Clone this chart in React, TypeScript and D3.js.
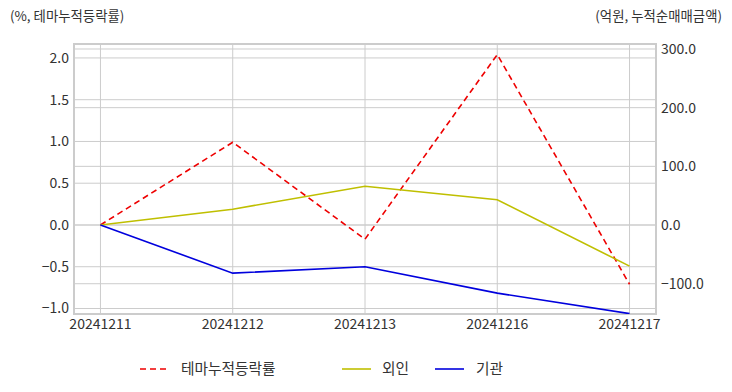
import React from "react";
import * as d3 from "d3";

const categories = ["20241211", "20241212", "20241213", "20241216", "20241217"];
const themeReturn = [0.0, 0.99, -0.17, 2.04, -0.71];
const foreignNet = [0, 27, 66, 43, -70];
const instNet = [0, -82, -71, -116, -151];
const leftTicks = [-1.0, -0.5, 0.0, 0.5, 1.0, 1.5, 2.0];
const rightTicks = [-100, 0, 100, 200, 300];

const W = 732, H = 392;
const L = 74, R = 656, T = 44, B = 314;
const FONT = "'Noto Sans CJK KR', 'Noto Sans', sans-serif";

export default function App() {
  const x = d3.scaleLinear().domain([-0.2, 4.2]).range([L, R]);
  const yL = d3.scaleLinear().domain([-1.066, 2.167]).range([B, T]);
  const yR = d3.scaleLinear().domain([-151.6, 308.5]).range([B, T]);
  const idx = categories.map((_, i) => i);
  const lineL = d3.line<number>().x((i) => x(i)).y((i) => yL(themeReturn[i]));
  const lineF = d3.line<number>().x((i) => x(i)).y((i) => yR(foreignNet[i]));
  const lineI = d3.line<number>().x((i) => x(i)).y((i) => yR(instNet[i]));
  const grid = "#cccccc";
  const txt = "#333333";
  return (
    <svg width={W} height={H} style={{ position: "absolute", left: 0, top: 0, fontFamily: FONT }}>
      <rect x={0} y={0} width={W} height={H} fill="#fff" />
      <defs>
        <clipPath id="clip">
          <rect x={L} y={T} width={R - L} height={B - T} />
        </clipPath>
      </defs>
      {leftTicks.map((t) => (
        <line key={"gl" + t} x1={L} x2={R} y1={yL(t)} y2={yL(t)} stroke={grid} strokeWidth={1} />
      ))}
      {rightTicks.map((t) => (
        <line key={"gr" + t} x1={L} x2={R} y1={yR(t)} y2={yR(t)} stroke={grid} strokeWidth={1} />
      ))}
      {idx.map((i) => (
        <line key={"gx" + i} x1={x(i)} x2={x(i)} y1={T} y2={B} stroke={grid} strokeWidth={1} />
      ))}
      <rect x={L} y={T} width={R - L} height={B - T} fill="none" stroke="#cccccc" strokeWidth={2} />
      <g clipPath="url(#clip)">
        <path d={lineL(idx) || ""} fill="none" stroke="#ee0000" strokeWidth={1.6} strokeDasharray="6,4" />
        <path d={lineF(idx) || ""} fill="none" stroke="#bfbf00" strokeWidth={1.6} />
        <path d={lineI(idx) || ""} fill="none" stroke="#0000dd" strokeWidth={1.6} />
      </g>
      {leftTicks.map((t) => (
        <text key={"tl" + t} x={69} y={yL(t)} dy="0.35em" textAnchor="end" fontSize={14} fill={txt}>
          {d3.format(".1f")(t)}
        </text>
      ))}
      {rightTicks.map((t) => (
        <text key={"tr" + t} x={661} y={yR(t)} dy="0.35em" textAnchor="start" fontSize={14} fill={txt}>
          {d3.format(".1f")(t)}
        </text>
      ))}
      {categories.map((c, i) => (
        <text key={"tx" + c} x={x(i)} y={324} dy="0.35em" textAnchor="middle" fontSize={14} fill={txt}>
          {c}
        </text>
      ))}
      <text x={10} y={16} dy="0.35em" fontSize={13.4} fill={txt}>(%, 테마누적등락률)</text>
      <text x={722} y={16} dy="0.35em" textAnchor="end" fontSize={13.4} fill={txt}>(억원, 누적순매매금액)</text>
      <g fontSize={14.7} fill={txt}>
        <line x1={140} x2={168} y1={369} y2={369} stroke="#ee0000" strokeWidth={1.6} strokeDasharray="6,4" />
        <text x={181} y={369} dy="0.35em">테마누적등락률</text>
        <line x1={342} x2={371} y1={369} y2={369} stroke="#bfbf00" strokeWidth={1.6} />
        <text x={382} y={369} dy="0.35em">외인</text>
        <line x1={435} x2={464} y1={369} y2={369} stroke="#0000dd" strokeWidth={1.6} />
        <text x={476} y={369} dy="0.35em">기관</text>
      </g>
    </svg>
  );
}
